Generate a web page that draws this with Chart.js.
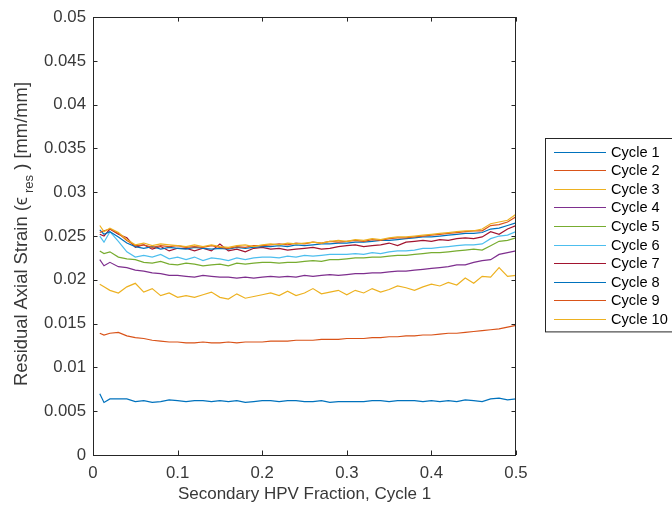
<!DOCTYPE html>
<html>
<head>
<meta charset="utf-8">
<script src="https://cdn.jsdelivr.net/npm/chart.js@4"></script>
<style>
  body { margin: 0; background: #fff; }
  canvas { display: block; }
</style>
</head>
<body>
<canvas id="myChart" width="672" height="508"></canvas>
<script>
// x positions (secondary HPV fraction)
let xVals = [0.008, 0.013, 0.02, 0.03, 0.04, 0.05, 0.06, 0.07, 0.08, 0.09, 0.10,
  0.11, 0.12, 0.13, 0.14, 0.15, 0.16, 0.17, 0.18, 0.19, 0.20,
  0.21, 0.22, 0.23, 0.24, 0.25, 0.26, 0.27, 0.28, 0.29, 0.30,
  0.31, 0.32, 0.33, 0.34, 0.35, 0.36, 0.37, 0.38, 0.39, 0.40,
  0.41, 0.42, 0.43, 0.44, 0.45, 0.46, 0.47, 0.48, 0.49, 0.50];

let cycle1 = [0.0070, 0.0060, 0.0064, 0.0064, 0.0064, 0.0061, 0.0062, 0.0060, 0.0061, 0.0063, 0.0062,
  0.0061, 0.0062, 0.0062, 0.0061, 0.0062, 0.0061, 0.0062, 0.0060, 0.0061, 0.0062,
  0.0062, 0.0061, 0.0062, 0.0062, 0.0061, 0.0061, 0.0062, 0.0060, 0.0061, 0.0061,
  0.0061, 0.0061, 0.0062, 0.0062, 0.0061, 0.0062, 0.0062, 0.0062, 0.0061, 0.0062,
  0.0061, 0.0062, 0.0061, 0.0063, 0.0062, 0.0061, 0.0064, 0.0065, 0.0063, 0.0064];
let cycle2 = [0.0139, 0.0137, 0.0139, 0.0140, 0.0136, 0.0134, 0.0133, 0.0131, 0.0130, 0.0129, 0.0129,
  0.0128, 0.0128, 0.0129, 0.0128, 0.0128, 0.0129, 0.0128, 0.0129, 0.0129, 0.0129,
  0.0130, 0.0130, 0.0130, 0.0131, 0.0131, 0.0131, 0.0132, 0.0132, 0.0132, 0.0133,
  0.0133, 0.0133, 0.0134, 0.0134, 0.0135, 0.0135, 0.0136, 0.0136, 0.0137, 0.0137,
  0.0138, 0.0139, 0.0139, 0.0140, 0.0141, 0.0142, 0.0143, 0.0144, 0.0146, 0.0148];
let cycle3 = [0.0195, 0.0192, 0.0188, 0.0185, 0.0192, 0.0196, 0.0186, 0.0190, 0.0182, 0.0185, 0.0180,
  0.0182, 0.0180, 0.0183, 0.0186, 0.0180, 0.0178, 0.0184, 0.0179, 0.0181, 0.0183,
  0.0185, 0.0182, 0.0187, 0.0182, 0.0185, 0.0190, 0.0184, 0.0186, 0.0188, 0.0183,
  0.0188, 0.0185, 0.0190, 0.0186, 0.0189, 0.0193, 0.0191, 0.0188, 0.0192, 0.0195,
  0.0193, 0.0197, 0.0194, 0.0202, 0.0196, 0.0204, 0.0203, 0.0214, 0.0204, 0.0205];
let cycle4 = [0.0223, 0.0216, 0.0220, 0.0215, 0.0214, 0.0211, 0.0210, 0.0208, 0.0207, 0.0205, 0.0205,
  0.0204, 0.0203, 0.0205, 0.0204, 0.0203, 0.0203, 0.0202, 0.0203, 0.0202, 0.0203,
  0.0204, 0.0203, 0.0204, 0.0203, 0.0205, 0.0204, 0.0205, 0.0206, 0.0205, 0.0206,
  0.0207, 0.0207, 0.0208, 0.0208, 0.0209, 0.0210, 0.0210, 0.0211, 0.0212, 0.0213,
  0.0214, 0.0215, 0.0217, 0.0217, 0.0220, 0.0222, 0.0223, 0.0229, 0.0231, 0.0233];
let cycle5 = [0.0233, 0.0230, 0.0232, 0.0226, 0.0224, 0.0223, 0.0220, 0.0219, 0.0221, 0.0218, 0.0217,
  0.0219, 0.0218, 0.0216, 0.0217, 0.0218, 0.0216, 0.0219, 0.0218, 0.0219, 0.0220,
  0.0220, 0.0219, 0.0220, 0.0220, 0.0221, 0.0222, 0.0221, 0.0223, 0.0223, 0.0224,
  0.0225, 0.0225, 0.0226, 0.0226, 0.0227, 0.0228, 0.0228, 0.0229, 0.0230, 0.0231,
  0.0231, 0.0232, 0.0233, 0.0234, 0.0235, 0.0234, 0.0239, 0.0244, 0.0245, 0.0248];
let cycle6 = [0.0250, 0.0243, 0.0255, 0.0244, 0.0232, 0.0226, 0.0228, 0.0226, 0.0229, 0.0224, 0.0226,
  0.0223, 0.0226, 0.0222, 0.0225, 0.0224, 0.0222, 0.0225, 0.0223, 0.0225, 0.0226,
  0.0226, 0.0225, 0.0227, 0.0226, 0.0228, 0.0227, 0.0228, 0.0229, 0.0229, 0.0229,
  0.0230, 0.0229, 0.0231, 0.0230, 0.0232, 0.0233, 0.0233, 0.0234, 0.0236, 0.0236,
  0.0237, 0.0238, 0.0239, 0.0240, 0.0240, 0.0241, 0.0247, 0.0250, 0.0251, 0.0255];
let cycle7 = [0.0252, 0.0250, 0.0258, 0.0252, 0.0248, 0.0237, 0.0240, 0.0235, 0.0238, 0.0233, 0.0236,
  0.0236, 0.0233, 0.0236, 0.0233, 0.0241, 0.0233, 0.0235, 0.0232, 0.0236, 0.0237,
  0.0235, 0.0236, 0.0234, 0.0235, 0.0236, 0.0237, 0.0235, 0.0236, 0.0238, 0.0239,
  0.0240, 0.0238, 0.0239, 0.0240, 0.0242, 0.0239, 0.0243, 0.0244, 0.0245, 0.0244,
  0.0246, 0.0245, 0.0247, 0.0248, 0.0247, 0.0249, 0.0255, 0.0252, 0.0258, 0.0262];
let cycle8 = [0.0257, 0.0252, 0.0255, 0.0249, 0.0242, 0.0238, 0.0236, 0.0238, 0.0235, 0.0237, 0.0236,
  0.0235, 0.0237, 0.0236, 0.0235, 0.0236, 0.0235, 0.0237, 0.0236, 0.0237, 0.0238,
  0.0238, 0.0239, 0.0238, 0.0240, 0.0239, 0.0240, 0.0241, 0.0241, 0.0242, 0.0242,
  0.0243, 0.0243, 0.0244, 0.0245, 0.0245, 0.0246, 0.0247, 0.0248, 0.0249, 0.0249,
  0.0250, 0.0251, 0.0252, 0.0253, 0.0253, 0.0254, 0.0258, 0.0259, 0.0262, 0.0265];
let cycle9 = [0.0254, 0.0256, 0.0258, 0.0253, 0.0245, 0.0239, 0.0240, 0.0237, 0.0239, 0.0238, 0.0239,
  0.0237, 0.0238, 0.0237, 0.0239, 0.0237, 0.0236, 0.0238, 0.0237, 0.0239, 0.0239,
  0.0240, 0.0241, 0.0240, 0.0242, 0.0241, 0.0243, 0.0242, 0.0244, 0.0243, 0.0244,
  0.0245, 0.0244, 0.0246, 0.0245, 0.0247, 0.0248, 0.0248, 0.0249, 0.0250, 0.0251,
  0.0252, 0.0253, 0.0254, 0.0255, 0.0256, 0.0256, 0.0262, 0.0263, 0.0266, 0.0272];
let cycle10 = [0.0262, 0.0255, 0.0259, 0.0254, 0.0246, 0.0240, 0.0242, 0.0239, 0.0241, 0.0240, 0.0239,
  0.0238, 0.0240, 0.0238, 0.0240, 0.0238, 0.0237, 0.0239, 0.0240, 0.0238, 0.0240,
  0.0241, 0.0240, 0.0242, 0.0241, 0.0242, 0.0243, 0.0242, 0.0244, 0.0245, 0.0244,
  0.0246, 0.0245, 0.0247, 0.0246, 0.0248, 0.0249, 0.0249, 0.0250, 0.0251, 0.0252,
  0.0253, 0.0254, 0.0255, 0.0256, 0.0256, 0.0258, 0.0264, 0.0266, 0.0268, 0.0275];

let seriesNames = ["Cycle 1", "Cycle 2", "Cycle 3", "Cycle 4", "Cycle 5",
  "Cycle 6", "Cycle 7", "Cycle 8", "Cycle 9", "Cycle 10"];
let seriesData = [cycle1, cycle2, cycle3, cycle4, cycle5, cycle6, cycle7, cycle8, cycle9, cycle10];
// matlab default color order (repeats after 7)
let colors = ["#0072BD", "#D95319", "#EDB120", "#7E2F8E", "#77AC30", "#4DBEEE", "#A2142F",
  "#0072BD", "#D95319", "#EDB120"];

const axisColor = "#262626";
const textColor = "#383838";
const fontFam = "'Liberation Sans', Arial, Helvetica, sans-serif";

let datasets = seriesData.map((vals, i) => ({
  label: seriesNames[i],
  data: vals.map((v, j) => ({ x: xVals[j], y: v })),
  borderColor: colors[i],
  borderWidth: 1.2,
  pointRadius: 0,
  fill: false,
  tension: 0,
  order: seriesData.length - i, // later cycles on top like matlab
}));

// box round the axes with inward ticks, plus y title with subscript
const matlabAxes = {
  id: "matlabAxes",
  afterDraw(chart) {
    const ctx = chart.ctx;
    const a = chart.chartArea;
    const xs = chart.scales.x;
    const ys = chart.scales.y;
    const tl = 4.5;
    ctx.save();
    ctx.strokeStyle = axisColor;
    ctx.lineWidth = 1;
    ctx.strokeRect(Math.round(a.left) + 0.5, Math.round(a.top) + 0.5,
      Math.round(a.right - a.left) - 1, Math.round(a.bottom - a.top));
    ctx.beginPath();
    xs.ticks.forEach(t => {
      const px = Math.round(xs.getPixelForValue(t.value)) + 0.5;
      ctx.moveTo(px, a.bottom); ctx.lineTo(px, a.bottom - tl);
      ctx.moveTo(px, a.top); ctx.lineTo(px, a.top + tl);
    });
    ys.ticks.forEach(t => {
      const py = Math.round(ys.getPixelForValue(t.value)) + 0.5;
      ctx.moveTo(a.left, py); ctx.lineTo(a.left + tl, py);
      ctx.moveTo(a.right, py); ctx.lineTo(a.right - tl, py);
    });
    ctx.stroke();

    // y axis title
    const cy = (a.top + a.bottom) / 2 - 2;
    ctx.translate(22, cy);
    ctx.rotate(-Math.PI / 2);
    ctx.fillStyle = textColor;
    ctx.textBaseline = "middle";
    ctx.textAlign = "left";
    const p1 = "Residual Axial Strain (\u03F5", sub = "res", p2 = " ) [mm/mm]";
    const big = "18.4px " + fontFam, small = "13px " + fontFam;
    ctx.font = big;
    const w1 = ctx.measureText(p1).width;
    const w3 = ctx.measureText(p2).width;
    ctx.font = small;
    const w2 = ctx.measureText(sub).width + 4;
    let sx = -(w1 + w2 + w3) / 2;
    ctx.font = big;
    ctx.fillText(p1, sx, 0);
    ctx.font = small;
    ctx.fillText(sub, sx + w1 + 4, 7);
    ctx.font = big;
    ctx.fillText(p2, sx + w1 + w2, 0);
    ctx.restore();
  }
};

// matlab-like legend box outside on the right
const matlabLegend = {
  id: "matlabLegend",
  afterDraw(chart) {
    const ctx = chart.ctx;
    const left = 545.5, top = 138.5, rowH = 18.6;
    const n = chart.data.datasets.length;
    const h = 13 * 2 + rowH * (n - 1);
    ctx.save();
    ctx.fillStyle = "#ffffff";
    ctx.fillRect(left, top, 200, h);
    ctx.strokeStyle = axisColor;
    ctx.lineWidth = 1;
    ctx.strokeRect(left, top, 200, h);
    ctx.font = "14.6px " + fontFam;
    ctx.textBaseline = "middle";
    ctx.textAlign = "left";
    chart.data.datasets.forEach((ds, i) => {
      const y = Math.round(top + 13 + i * rowH) + 0.5;
      ctx.strokeStyle = ds.borderColor;
      ctx.lineWidth = 1.2;
      ctx.beginPath();
      ctx.moveTo(554, y);
      ctx.lineTo(606, y);
      ctx.stroke();
      ctx.fillStyle = "#000000";
      ctx.fillText(ds.label, 611, y);
    });
    ctx.restore();
  }
};

var ctx = document.getElementById("myChart").getContext("2d");

var chart1 = new Chart(ctx, {
  type: "line",
  data: { datasets: datasets },
  options: {
    responsive: false,
    animation: false,
    layout: { padding: { top: 16, right: 156, left: 0, bottom: 0 } },
    plugins: {
      legend: { display: false },
      tooltip: { enabled: false },
    },
    scales: {
      x: {
        type: "linear",
        min: 0,
        max: 0.5,
        grid: { display: false, drawTicks: false },
        border: { display: false },
        ticks: {
          stepSize: 0.1,
          padding: 8,
          color: textColor,
          font: { family: fontFam, size: 16.8 },
          maxRotation: 0,
          callback: (v) => parseFloat(v.toFixed(3)).toString(),
        },
        title: {
          display: true,
          text: "Secondary HPV Fraction, Cycle 1",
          color: textColor,
          font: { family: fontFam, size: 17 },
          padding: { top: 4, bottom: 3 },
        },
        afterFit: (scale) => { scale.height = 53; },
      },
      y: {
        type: "linear",
        min: 0,
        max: 0.05,
        grid: { display: false, drawTicks: false },
        border: { display: false },
        ticks: {
          stepSize: 0.005,
          padding: 7,
          color: textColor,
          font: { family: fontFam, size: 16.8 },
          callback: (v) => parseFloat(v.toFixed(3)).toString(),
        },
        afterFit: (scale) => { scale.width = 93; },
      },
    },
  },
  plugins: [matlabAxes, matlabLegend],
});
</script>
</body>
</html>
